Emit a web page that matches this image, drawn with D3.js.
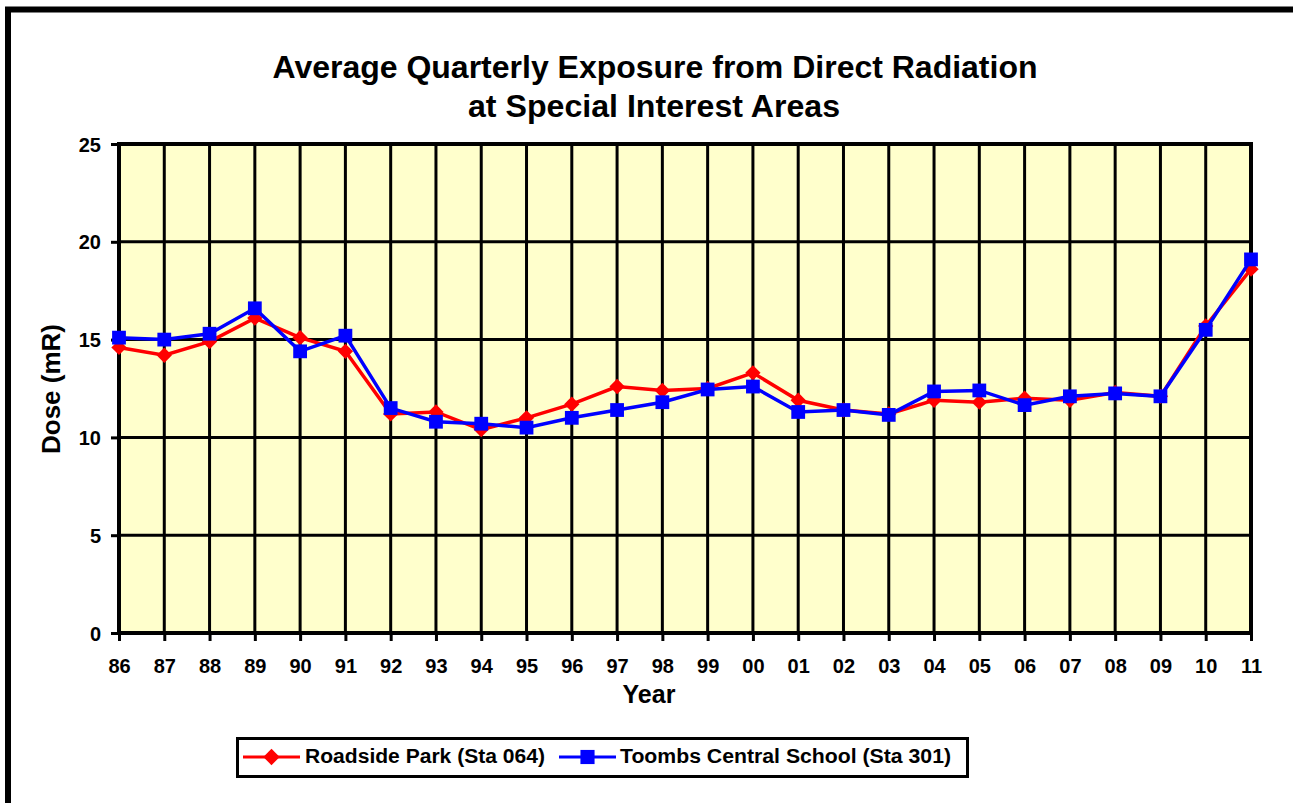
<!DOCTYPE html>
<html><head><meta charset="utf-8">
<script src="https://cdn.jsdelivr.net/npm/d3@7"></script>
<style>body{margin:0;background:#fff}svg{display:block;font-family:"Liberation Sans",Arial,sans-serif}</style>
</head><body>
<svg id="c" width="1293" height="803"></svg>
<script>
const years = ["86","87","88","89","90","91","92","93","94","95","96","97","98","99","00","01","02","03","04","05","06","07","08","09","10","11"];
const roadside = [14.6,14.2,14.9,16.1,15.1,14.4,11.2,11.3,10.4,11.0,11.7,12.6,12.4,12.5,13.3,11.9,11.4,11.2,11.9,11.8,12.0,11.9,12.3,12.1,15.7,18.6];
const toombs = [15.1,15.0,15.3,16.6,14.4,15.2,11.5,10.8,10.7,10.5,11.0,11.4,11.8,12.45,12.6,11.3,11.4,11.15,12.35,12.4,11.65,12.1,12.25,12.1,15.5,19.1];
const yTicks = [0,5,10,15,20,25];
const seriesNames = ["Roadside Park (Sta 064)","Toombs Central School (Sta 301)"];

const svg = d3.select("#c");
const L=119,R=1251,T=144,B=633;
const x = d3.scalePoint().domain(years).range([L,R]);
const y = d3.scaleLinear().domain([0,25]).range([B,T]);

// outer frame
svg.append("rect").attr("x",8).attr("y",9.5).attr("width",1400).attr("height",1000)
  .attr("fill","none").attr("stroke","#000").attr("stroke-width",6);

// title
const title = svg.append("text").attr("text-anchor","middle").attr("font-weight","bold").attr("font-size",31);
title.append("tspan").attr("x",655).attr("y",78).attr("textLength",765).attr("lengthAdjust","spacingAndGlyphs")
  .text("Average Quarterly Exposure from Direct Radiation");
title.append("tspan").attr("x",654).attr("y",117).attr("textLength",372).attr("lengthAdjust","spacingAndGlyphs")
  .text("at Special Interest Areas");

// plot bg
svg.append("rect").attr("x",L).attr("y",T).attr("width",R-L).attr("height",B-T).attr("fill","#FFFFCC");

// grid
const g = svg.append("g");
g.selectAll(".vg").data(years).join("line").attr("x1",d=>x(d)).attr("x2",d=>x(d)).attr("y1",T).attr("y2",B)
  .attr("stroke","#000").attr("stroke-width",3);
g.selectAll(".hg").data(yTicks).join("line").attr("x1",L).attr("x2",R).attr("y1",d=>y(d)).attr("y2",d=>y(d))
  .attr("stroke","#000").attr("stroke-width",3);

// axes
const xAxis = svg.append("g").attr("transform",`translate(0,${B})`)
  .call(d3.axisBottom(x).tickSize(8).tickPadding(18));
const yAxis = svg.append("g").attr("transform",`translate(${L},0)`)
  .call(d3.axisLeft(y).tickValues(yTicks).tickSize(8).tickPadding(10));
[xAxis,yAxis].forEach(a=>{
  a.select(".domain").remove();
  a.selectAll(".tick line").attr("stroke","#000").attr("stroke-width",3);
  a.selectAll(".tick text").attr("font-size",20).attr("font-weight","bold").attr("fill","#000")
   .attr("font-family","'Liberation Sans',Arial,sans-serif");
});
yAxis.selectAll(".tick text").attr("dy","0.35em");

// plot frame
svg.append("rect").attr("x",L).attr("y",T).attr("width",R-L).attr("height",B-T)
  .attr("fill","none").attr("stroke","#000").attr("stroke-width",4);

// axis titles
svg.append("text").attr("x",649).attr("y",703).attr("text-anchor","middle").attr("font-weight","bold")
  .attr("font-size",25).text("Year");
svg.append("text").attr("transform","translate(60,389) rotate(-90)").attr("text-anchor","middle")
  .attr("font-weight","bold").attr("font-size",26).text("Dose (mR)");

// series
const line = d3.line().x((d,i)=>x(years[i])).y(d=>y(d));
const diamond = d3.symbol().type(d3.symbolDiamond2).size(150);
const square = d3.symbol().type(d3.symbolSquare).size(190);
const diamondL = d3.symbol().type(d3.symbolDiamond2).size(170);
const squareL = d3.symbol().type(d3.symbolSquare).size(200);

svg.append("path").datum(roadside).attr("d",line).attr("fill","none").attr("stroke","#FF0000").attr("stroke-width",3.5);
svg.selectAll(".rd").data(roadside).join("path").attr("d",diamond)
  .attr("transform",(d,i)=>`translate(${x(years[i])},${y(d)})`).attr("fill","#FF0000");
svg.append("path").datum(toombs).attr("d",line).attr("fill","none").attr("stroke","#0000FF").attr("stroke-width",3.5);
svg.selectAll(".bs").data(toombs).join("path").attr("d",square)
  .attr("transform",(d,i)=>`translate(${x(years[i])},${y(d)})`).attr("fill","#0000FF");

// legend
svg.append("rect").attr("x",237.5).attr("y",738.5).attr("width",730).attr("height",38)
  .attr("fill","#fff").attr("stroke","#000").attr("stroke-width",3);
const lg = [{c:"#FF0000",s:diamondL,x0:243,tx:305,tl:240},{c:"#0000FF",s:squareL,x0:559,tx:620,tl:331}];
lg.forEach((o,i)=>{
  svg.append("line").attr("x1",o.x0).attr("x2",o.x0+57).attr("y1",757).attr("y2",757).attr("stroke",o.c).attr("stroke-width",3);
  svg.append("path").attr("d",o.s).attr("transform",`translate(${o.x0+28.5},757)`).attr("fill",o.c);
  svg.append("text").attr("x",o.tx).attr("y",763).attr("font-weight","bold").attr("font-size",20)
    .attr("textLength",o.tl).attr("lengthAdjust","spacingAndGlyphs").text(seriesNames[i]);
});
</script>
</body></html>
